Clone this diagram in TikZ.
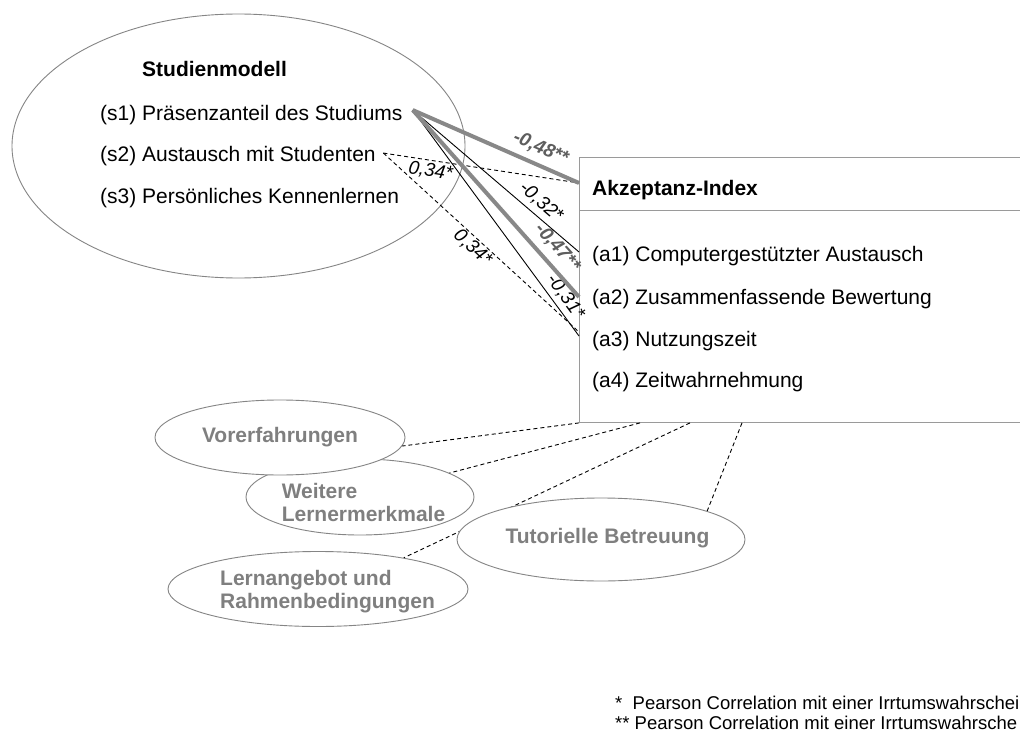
\documentclass[tikz,border=0pt]{standalone}
\usepackage{fontspec}
\setmainfont{Liberation Sans}
\usetikzlibrary{shapes.geometric,calc}
\definecolor{outlinegray}{HTML}{858585}
\definecolor{framegray}{HTML}{9A9A9A}
\definecolor{factorgray}{HTML}{7F7F7F}
\definecolor{stronggray}{HTML}{888888}
\definecolor{stronglabel}{HTML}{5E5E5E}

\begin{document}
\begin{tikzpicture}[x=1pt,y=-1pt,
  item/.style={anchor=base west, inner sep=0pt, font=\fontsize{21}{25}\selectfont},
  head/.style={item, font=\fontsize{21}{25}\selectfont\bfseries},
  lab/.style={sloped, inner sep=0pt, font=\fontsize{19}{22}\selectfont\itshape},
  stronglab/.style={lab, text=stronglabel, font=\fontsize{19}{22}\selectfont\bfseries\itshape},
  strong/.style={line width=4pt, draw=stronggray},
  weak/.style={line width=0.9pt, draw=black},
  dashedlink/.style={line width=0.9pt, draw=black, dash pattern=on 4pt off 3pt},
  factor/.style={ellipse, draw=outlinegray, line width=0.9pt, fill=white, inner sep=0pt},
  factortext/.style={font=\fontsize{21}{23}\selectfont\bfseries, text=factorgray, align=left, inner sep=0pt},
  note/.style={anchor=base west, inner sep=0pt, font=\fontsize{18.5}{20}\selectfont},
]
\useasboundingbox (0,0) rectangle (1020,733);
\fill[white] (0,0) rectangle (1020,733);
\clip (0,0) rectangle (1020,733);

% study model
\node[ellipse, draw=outlinegray, line width=0.9pt, minimum width=453pt, minimum height=264pt, inner sep=0pt] (stud) at (238.5,146) {};
\node[head] (studT) at (142,76.5) {Studienmodell};
\node[item] (s1) at (100,120.5) {(s1) Präsenzanteil des Studiums};
\node[item] (s2) at (100,161) {(s2) Austausch mit Studenten};
\node[item] (s3) at (100,203.5) {(s3) Persönliches Kennenlernen};

% acceptance index (runs on past the right margin)
\node[draw=framegray, line width=0.9pt, fill=white, minimum width=540pt, minimum height=265pt, anchor=north west, inner sep=0pt] (akz) at (579,157) {};
\draw[framegray, line width=0.9pt] ($(akz.north west)+(0,53)$) -- ($(akz.north east)+(0,53)$);
\node[head] (akzT) at (592,195.5) {Akzeptanz-Index};
\node[item] (a1) at (592,261.5) {(a1) Computergestützter Austausch};
\node[item] (a2) at (592,304.5) {(a2) Zusammenfassende Bewertung};
\node[item] (a3) at (592,346.5) {(a3) Nutzungszeit};
\node[item] (a4) at (592,387.5) {(a4) Zeitwahrnehmung};

% connector ends
\coordinate (s1o) at ($(s1.east)+(10,-5)$);
\coordinate (s2o) at ($(s2.east)+(7.5,-2.5)$);
\coordinate (k0) at ($(akz.north west)+(0,26)$);
\coordinate (k1) at ($(akz.north west)+(0,95)$);
\coordinate (k2) at ($(akz.north west)+(0,140)$);
\coordinate (k3) at ($(akz.north west)+(0,179)$);
\coordinate (k3d) at ($(akz.north west)+(0,175)$);

% correlations
\draw[dashedlink] (s2o) -- node[lab, pos=0.25, below=2.6pt] {0,34*} (k0);
\draw[dashedlink] (s2o) -- node[lab, pos=0.49, below=1.4pt] {0,34*} (k3d);
\draw[weak] (s1o) -- node[lab, pos=0.72, above=5pt] {-0,32*} (k1);
\draw[weak] (s1o) -- node[lab, pos=0.86, above=4pt] {-0,31*} (k3);
\draw[strong] (s1o) -- node[stronglab, pos=0.73, above=6.4pt] {-0,48**} (k0);
\draw[strong] (s1o) -- node[stronglab, pos=0.795, above=6.5pt] {-0,47**} (k2);

% further factors
\coordinate (b1) at ($(akz.south west)+(0,0)$);
\coordinate (b2) at ($(akz.south west)+(61,0)$);
\coordinate (b3) at ($(akz.south west)+(111,0)$);
\coordinate (b4) at ($(akz.south west)+(163,0)$);

\node[factor, minimum width=300pt, minimum height=75pt] (lern) at (318,589) {};
\node[factor, minimum width=228pt, minimum height=76pt] (weit) at (360,497) {};
\node[factor, minimum width=250pt, minimum height=75pt] (vor) at (280,437.5) {};

\draw[dashedlink] (b1) -- (vor.-4);
\draw[dashedlink] (b2) -- (weit.15);
\draw[dashedlink] (b3) -- (lern.20);

\node[factor, minimum width=288pt, minimum height=83pt] (tut) at (601,539.5) {};
\draw[dashedlink] (b4) -- (tut.15);

\node[factortext] (vorT) at (280,437.5) {Vorerfahrungen};
\node[factortext] (weitT) at (363.5,502) {Weitere\\Lernermerkmale};
\node[factortext] (tutT) at (607.5,538.5) {Tutorielle Betreuung};
\node[factortext] (lernT) at (327.5,591.5) {Lernangebot und\\Rahmenbedingungen};

% significance notes
\node[note] (n1) at (615,709) {*~~Pearson Correlation mit einer Irrtumswahrschei};
\node[note] (n2) at (615,729) {** Pearson Correlation mit einer Irrtumswahrsche};
\end{tikzpicture}
\end{document}
